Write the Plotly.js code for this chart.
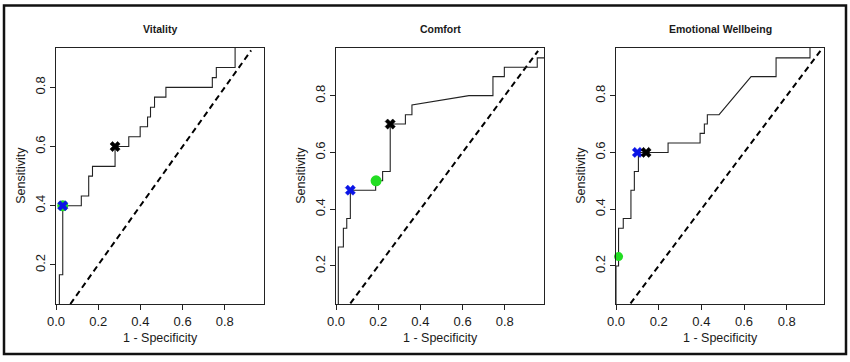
<!DOCTYPE html>
<html>
<head>
<meta charset="utf-8">
<script src="https://cdn.plot.ly/plotly-3.0.1.min.js"></script>
<style>html,body{margin:0;padding:0;background:#fff;}#chart{width:850px;height:362px;}</style>
</head>
<body>
<div id="chart"></div>
<script>
// ---- Data ----
const panelTitles = ["Vitality", "Comfort", "Emotional Wellbeing"];
const xTickVals = [0, 0.2, 0.4, 0.6, 0.8];
const yTickVals = [0.2, 0.4, 0.6, 0.8];

// Vitality ROC vertices
const vitFpr = [0, 0.016, 0.016, 0.032, 0.032, 0.120, 0.120, 0.155, 0.155, 0.173, 0.173, 0.280, 0.280, 0.345, 0.345, 0.399, 0.399, 0.434, 0.434, 0.448, 0.448, 0.467, 0.467, 0.521, 0.521, 0.741, 0.741, 0.760, 0.760, 0.849, 0.849, 1];
const vitTpr = [0, 0, 0.167, 0.167, 0.400, 0.400, 0.433, 0.433, 0.500, 0.500, 0.533, 0.533, 0.600, 0.600, 0.633, 0.633, 0.667, 0.667, 0.700, 0.700, 0.733, 0.733, 0.767, 0.767, 0.800, 0.800, 0.833, 0.833, 0.867, 0.867, 1, 1];

// Comfort ROC vertices
const comFpr = [0, 0.011, 0.011, 0.035, 0.035, 0.051, 0.051, 0.068, 0.068, 0.188, 0.188, 0.221, 0.221, 0.257, 0.257, 0.329, 0.329, 0.360, 0.360, 0.630, 0.744, 0.744, 0.798, 0.798, 0.954, 0.954, 1, 1];
const comTpr = [0, 0, 0.267, 0.267, 0.333, 0.333, 0.367, 0.367, 0.467, 0.467, 0.500, 0.500, 0.533, 0.533, 0.700, 0.700, 0.733, 0.733, 0.767, 0.800, 0.800, 0.867, 0.867, 0.900, 0.900, 0.933, 0.933, 1];

// Emotional Wellbeing ROC vertices
const emoFpr = [0, 0, 0.012, 0.012, 0.034, 0.034, 0.070, 0.070, 0.086, 0.086, 0.105, 0.105, 0.244, 0.244, 0.394, 0.394, 0.414, 0.414, 0.428, 0.428, 0.483, 0.633, 0.750, 0.750, 0.909, 0.909, 1];
const emoTpr = [0, 0.200, 0.200, 0.333, 0.333, 0.367, 0.367, 0.467, 0.467, 0.533, 0.533, 0.600, 0.600, 0.633, 0.633, 0.667, 0.667, 0.700, 0.700, 0.733, 0.733, 0.867, 0.867, 0.933, 0.933, 1, 1];

// Highlighted cut-points [fpr, tpr]
const greenPts = [[0.032, 0.400], [0.190, 0.500], [0.012, 0.233]];
const bluePts  = [[0.032, 0.400], [0.068, 0.467], [0.100, 0.600]];
const blackPts = [[0.280, 0.600], [0.257, 0.700], [0.141, 0.600]];
const greenSizes = [11, 11, 9];

// Chance (diagonal) line extents per panel
const chanceLines = [[0.068, 0.925], [0.068, 0.958], [0.068, 0.958]];

const curves = [[vitFpr, vitTpr], [comFpr, comTpr], [emoFpr, emoTpr]];

// ---- Layout geometry (pixels) ----
const W = 850, H = 362;
const plotLeft = [56, 336, 616];
const plotRight = [264, 544, 824.3];
const plotTop = 47.7, plotBottom = 304;
const xRanges = [[0, 0.986], [0, 0.986], [0, 0.976]];
const yRanges = [[0.068, 0.934], [0.066, 0.969], [0.066, 0.969]];

const FONT = "Liberation Sans, Arial, sans-serif";
const INK = "#1a1a1a";

const traces = [];
const layout = {
  width: W, height: H,
  margin: {l: 0, r: 0, t: 0, b: 0},
  paper_bgcolor: "#fff", plot_bgcolor: "#fff",
  showlegend: false,
  font: {family: FONT, color: INK},
  annotations: [],
  shapes: [{
    type: "rect", xref: "paper", yref: "paper",
    x0: 4 / W, x1: 846 / W, y0: 1 - 354 / H, y1: 1 - 5.5 / H,
    line: {color: "#111", width: 2.5}
  }]
};

for (let i = 0; i < 3; i++) {
  const n = i === 0 ? "" : String(i + 1);
  const xa = "x" + n, ya = "y" + n;
  const [fpr, tpr] = curves[i];
  traces.push({x: chanceLines[i], y: chanceLines[i], xaxis: xa, yaxis: ya, mode: "lines",
    line: {color: "#000", width: 2, dash: "6px,4px"}, hoverinfo: "skip"});
  traces.push({x: fpr, y: tpr, xaxis: xa, yaxis: ya, mode: "lines",
    line: {color: "#222", width: 1.1}, hoverinfo: "skip"});
  traces.push({x: [greenPts[i][0]], y: [greenPts[i][1]], xaxis: xa, yaxis: ya, mode: "markers",
    cliponaxis: false, marker: {symbol: "circle", size: greenSizes[i], color: "#22dd22"}});
  traces.push({x: [bluePts[i][0]], y: [bluePts[i][1]], xaxis: xa, yaxis: ya, mode: "markers",
    cliponaxis: false, marker: {symbol: "x", size: 9, color: "#0a14e6", line: {width: 0.5, color: "#0a14e6"}}});
  traces.push({x: [blackPts[i][0]], y: [blackPts[i][1]], xaxis: xa, yaxis: ya, mode: "markers",
    cliponaxis: false, marker: {symbol: "x", size: 9, color: "#000", line: {width: 0.5, color: "#000"}}});

  const common = {
    showgrid: false, zeroline: false, showline: true, mirror: true,
    linecolor: "#222", linewidth: 1, ticks: "outside", ticklen: 5, tickwidth: 1,
    tickcolor: "#222", tickfont: {size: 13, family: FONT, color: INK},
    tickformat: ".1f", fixedrange: true
  };
  layout["xaxis" + n] = Object.assign({}, common, {
    domain: [plotLeft[i] / W, plotRight[i] / W], range: xRanges[i],
    tickmode: "array", tickvals: xTickVals, anchor: ya
  });
  layout["yaxis" + n] = Object.assign({}, common, {
    domain: [1 - plotBottom / H, 1 - plotTop / H], range: yRanges[i],
    tickmode: "array", tickvals: yTickVals, tickangle: -90, anchor: xa
  });

  const cx = (plotLeft[i] + plotRight[i]) / 2 / W;
  layout.annotations.push({text: "<b>" + panelTitles[i] + "</b>", xref: "paper", yref: "paper",
    x: cx, y: 1 - 29 / H, xanchor: "center", yanchor: "middle", showarrow: false,
    font: {size: 10.5, family: FONT, color: INK}});
  layout.annotations.push({text: "1 - Specificity", xref: "paper", yref: "paper",
    x: cx, y: 1 - 338 / H, xanchor: "center", yanchor: "middle", showarrow: false,
    font: {size: 12.5, family: FONT, color: INK}});
  layout.annotations.push({text: "Sensitivity", xref: "paper", yref: "paper",
    x: (plotLeft[i] - 35) / W, y: 1 - ((plotTop + plotBottom) / 2) / H,
    xanchor: "center", yanchor: "middle", textangle: -90, showarrow: false,
    font: {size: 12.5, family: FONT, color: INK}});
}

Plotly.newPlot("chart", traces, layout, {staticPlot: true, displayModeBar: false});
</script>
</body>
</html>
